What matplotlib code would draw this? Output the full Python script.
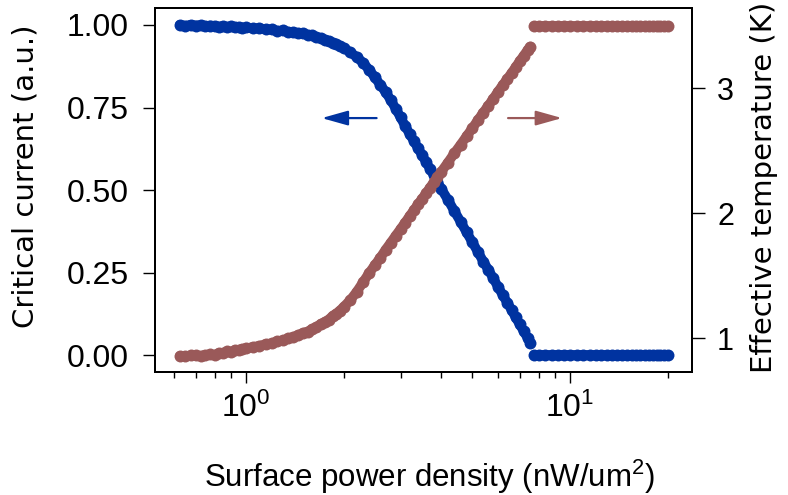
import matplotlib

matplotlib.use("Agg")
import matplotlib.pyplot as plt
from matplotlib.ticker import FixedLocator, FormatStrFormatter, NullFormatter

plt.rcParams["font.family"] = "Liberation Sans"
plt.rcParams["mathtext.fontset"] = "custom"
plt.rcParams["mathtext.rm"] = "Liberation Sans"
plt.rcParams["mathtext.it"] = "Liberation Sans:italic"

# surface power density (nW/um^2)
power = [
    0.625, 0.65, 0.675, 0.70, 0.725, 0.75, 0.775, 0.80,
    0.825, 0.85, 0.875, 0.90, 0.925, 0.95, 0.975, 1.00,
    1.05, 1.10, 1.15, 1.20, 1.25, 1.30, 1.35, 1.40, 1.45, 1.50,
    1.55, 1.60, 1.65, 1.70, 1.75, 1.80, 1.85, 1.90, 1.95, 2.00,
    2.10, 2.20, 2.30, 2.40, 2.50, 2.60, 2.70, 2.80, 2.90, 3.00,
    3.10, 3.20, 3.30, 3.40, 3.50, 3.60, 3.70, 3.80, 3.90, 4.00,
    4.20, 4.40, 4.60, 4.80, 5.00, 5.20, 5.40, 5.60, 5.80,
    6.00, 6.20, 6.40, 6.60, 6.80, 7.00, 7.20, 7.40, 7.55,
    7.75, 8.0, 8.4, 8.8, 9.2, 9.6, 10.0, 10.5, 11.0, 11.5,
    12.0, 12.5, 13.0, 13.5, 14.0, 14.5, 15.0, 15.5, 16.0, 16.5,
    17.0, 17.5, 18.0, 18.5, 19.0, 19.5, 20.0,
]

# normalised critical current (a.u.)
critical_current = [
    1.000, 0.997, 1.000, 0.998, 0.999, 0.996, 0.998, 0.997,
    0.994, 0.996, 0.993, 0.995, 0.992, 0.994, 0.991, 0.992,
    0.989, 0.990, 0.986, 0.986, 0.982, 0.983, 0.979, 0.978, 0.975, 0.974,
    0.970, 0.968, 0.963, 0.960, 0.955, 0.951, 0.946, 0.941, 0.936, 0.930,
    0.917, 0.902, 0.885, 0.864, 0.841, 0.818, 0.796, 0.772, 0.746, 0.720,
    0.694, 0.670, 0.648, 0.626, 0.605, 0.584, 0.564, 0.545, 0.525, 0.505,
    0.471, 0.436, 0.404, 0.372, 0.342, 0.313, 0.284, 0.259, 0.233,
    0.207, 0.183, 0.160, 0.138, 0.115, 0.094, 0.073, 0.053, 0.038,
    0.0, 0.0, 0.0, 0.0, 0.0, 0.0, 0.0, 0.0, 0.0, 0.0,
    0.0, 0.0, 0.0, 0.0, 0.0, 0.0, 0.0, 0.0, 0.0, 0.0,
    0.0, 0.0, 0.0, 0.0, 0.0, 0.0, 0.0,
]

# effective temperature (K)
temperature = [
    0.858, 0.854, 0.862, 0.862, 0.858, 0.866, 0.870, 0.866,
    0.882, 0.882, 0.894, 0.890, 0.906, 0.906, 0.914, 0.918,
    0.930, 0.938, 0.954, 0.958, 0.978, 0.982, 0.998, 1.010, 1.026, 1.042,
    1.054, 1.074, 1.090, 1.114, 1.130, 1.150, 1.178, 1.198, 1.222, 1.250,
    1.306, 1.374, 1.450, 1.522, 1.586, 1.646, 1.710, 1.766, 1.822, 1.874,
    1.926, 1.978, 2.026, 2.074, 2.118, 2.162, 2.206, 2.250, 2.290, 2.330,
    2.406, 2.482, 2.550, 2.618, 2.682, 2.746, 2.806, 2.862, 2.918,
    2.974, 3.026, 3.074, 3.122, 3.170, 3.218, 3.262, 3.306, 3.334,
    3.5, 3.5, 3.5, 3.5, 3.5, 3.5, 3.5, 3.5, 3.5, 3.5,
    3.5, 3.5, 3.5, 3.5, 3.5, 3.5, 3.5, 3.5, 3.5, 3.5,
    3.5, 3.5, 3.5, 3.5, 3.5, 3.5, 3.5,
]

# index where the sample goes normal (curve stops, plateau starts)
n_transition = 74

current_ticks = [0.0, 0.25, 0.50, 0.75, 1.00]
temperature_ticks = [1, 2, 3]


def draw_series(ax, x, y, color):
    # dense markers on a thick line give the continuous beaded band
    for sl in (slice(0, n_transition), slice(n_transition, None)):
        ax.plot(x[sl], y[sl], "-o", color=color, lw=7, ms=8.6, mew=0,
                solid_capstyle="round", solid_joinstyle="round")


def plot():
    blue = "#0033a0"
    red = "#9a5959"

    fig = plt.figure(figsize=(7.88, 4.95), dpi=100)
    ax = fig.add_axes([0.1973, 0.2485, 0.6809, 0.7347])
    ax2 = ax.twinx()

    draw_series(ax, power, critical_current, blue)
    draw_series(ax2, power, temperature, red)

    ax.set_xscale("log")
    ax.set_xlim(0.5257, 23.8)
    ax.set_ylim(-0.05, 1.05)
    ax2.set_ylim(0.73, 3.64)

    ax.xaxis.set_major_locator(FixedLocator([1, 10]))
    ax.xaxis.set_minor_formatter(NullFormatter())
    ax.set_yticks(current_ticks)
    ax.yaxis.set_major_formatter(FormatStrFormatter("%.2f"))
    ax2.set_yticks(temperature_ticks)

    for a in (ax, ax2):
        for spine in a.spines.values():
            spine.set_linewidth(1.4)
    ax.tick_params(axis="x", which="major", length=8, width=1, labelsize=23, pad=7)
    ax.tick_params(axis="x", which="minor", length=4.5, width=1)
    ax.tick_params(axis="y", length=8.5, width=1, labelsize=23, pad=10.5)
    ax2.tick_params(axis="y", length=9, width=1, labelsize=22, pad=9)

    ax.set_xlabel("Surface power density (nW/um$^2$)", fontsize=22.5, va="center")
    ax.xaxis.set_label_coords(0.5117, -0.289)
    ax.set_ylabel("Critical current (a.u.)", fontsize=21, family="DejaVu Sans",
                  va="center")
    ax.yaxis.set_label_coords(-0.2414, 0.539)
    ax2.set_ylabel("Effective temperature (K)", fontsize=21, family="DejaVu Sans",
                   va="center", rotation=90)
    ax2.yaxis.set_label_coords(1.134, 0.509)

    # arrows pointing each curve to its axis
    arrow = "-|>,head_length=1.6,head_width=0.45"
    ax.annotate("", xy=(1.713, 0.718), xytext=(2.53, 0.718),
                arrowprops=dict(arrowstyle=arrow, color=blue, lw=1.6,
                                shrinkA=0, shrinkB=0))
    ax.annotate("", xy=(9.45, 0.718), xytext=(6.44, 0.718),
                arrowprops=dict(arrowstyle=arrow, color=red, lw=1.6,
                                shrinkA=0, shrinkB=0))

    fig.savefig("out.png", dpi=100)
    plt.close(fig)


plot()
